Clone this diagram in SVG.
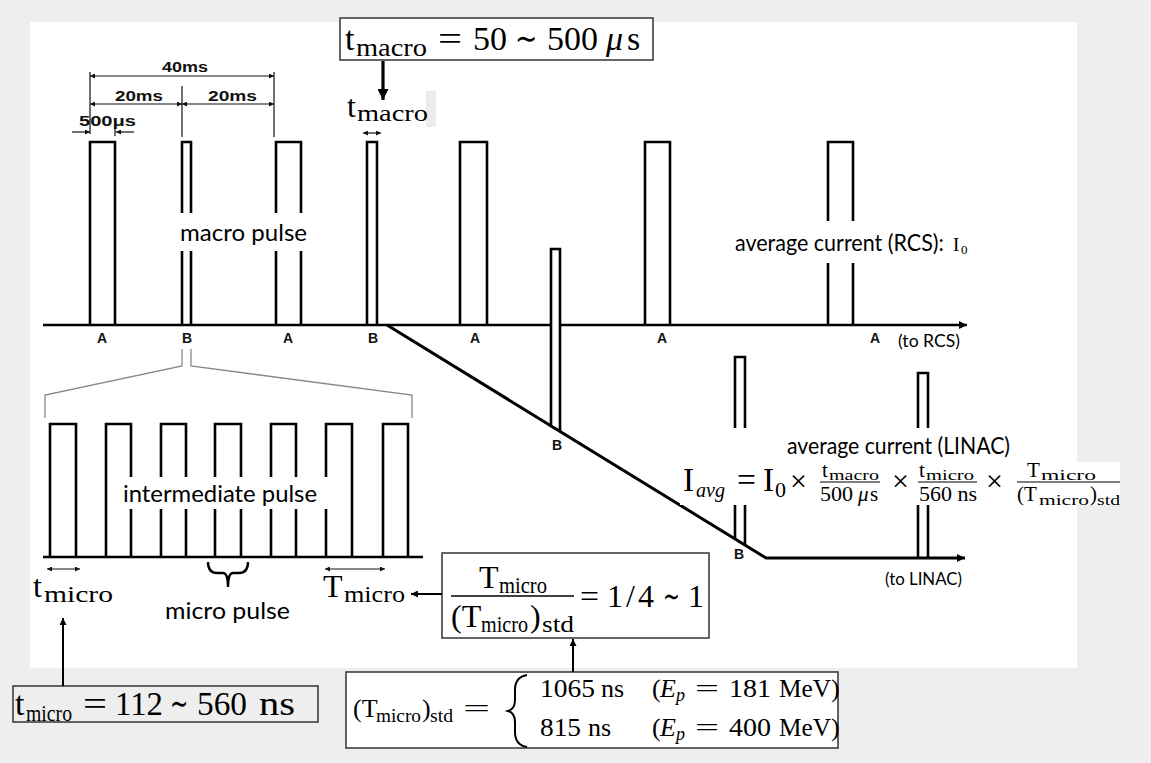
<svg xmlns="http://www.w3.org/2000/svg" width="1151" height="763" viewBox="0 0 1151 763">
<style>
.p{fill:none;stroke:#000;stroke-width:2.6;stroke-linejoin:miter}
.pw{fill:#fff;stroke:#000;stroke-width:2.6}
.ax{fill:none;stroke:#000;stroke-width:2.6}
.dim{fill:none;stroke:#111;stroke-width:1.2}
.br{fill:none;stroke:#888;stroke-width:1.3}
.box{fill:#fff;stroke:#333;stroke-width:1.5}
.con{fill:none;stroke:#000;stroke-width:2}
.lbl{font-family:Lato,"Open Sans",sans-serif;font-size:23px;fill:#000}
.ab{font-family:"Liberation Sans",Arial,sans-serif;font-weight:bold;font-size:14px;fill:#111;text-anchor:middle}
.dm{font-family:"Liberation Sans",Arial,sans-serif;font-weight:bold;font-size:15px;fill:#111}
.m{font-family:"Liberation Serif","Times New Roman",serif;fill:#000}
.wb{fill:#fff;stroke:none}
</style>
<defs>
<marker id="ds" viewBox="0 0 10 10" refX="10" refY="5" markerWidth="7" markerHeight="5" markerUnits="userSpaceOnUse" orient="auto-start-reverse"><path d="M0,0 L10,5 L0,10 z" fill="#111"/></marker>
<marker id="axm" viewBox="0 0 10 10" refX="10" refY="5" markerWidth="14" markerHeight="8" markerUnits="userSpaceOnUse" orient="auto"><path d="M0,0 L10,5 L0,10 z" fill="#000"/></marker>
<marker id="big" viewBox="0 0 10 10" refX="10" refY="5" markerWidth="13" markerHeight="11" markerUnits="userSpaceOnUse" orient="auto"><path d="M0,0 L10,5 L0,10 z" fill="#000"/></marker>
<marker id="sm" viewBox="0 0 10 10" refX="10" refY="5" markerWidth="9" markerHeight="7" markerUnits="userSpaceOnUse" orient="auto"><path d="M0,0 L10,5 L0,10 z" fill="#000"/></marker>
</defs>

<rect x="0" y="0" width="1151" height="763" fill="#eeeeee"/>
<rect x="30" y="22" width="1047" height="646" fill="#fff"/>
<rect x="426" y="91" width="10" height="36" fill="#ececec"/>

<g id="rcs-axis">
<line class="ax" x1="43" y1="325" x2="967" y2="325" marker-end="url(#axm)"/>
</g>

<g id="macro-pulses">
<path class="p" d="M90,325 V142 H115 V325"/>
<path class="p" d="M182,325 V142 H191 V325"/>
<path class="p" d="M276,325 V142 H301 V325"/>
<path class="p" d="M367,325 V142 H377 V325"/>
<path class="p" d="M460,325 V142 H487 V325"/>
<path class="p" d="M645,325 V142 H670 V325"/>
<path class="p" d="M828,325 V142 H853 V325"/>
</g>

<g id="linac-axis">
<polyline class="ax" style="stroke-width:3" points="387,325 766,558 965,558" marker-end="url(#axm)"/>
</g>

<g id="linac-pulses">
<path class="pw" d="M551,426 V249 H560 V431 Z"/>
<path class="p" d="M735,539 V357 H745 V545"/>
<path class="p" d="M918,558 V373 H928 V558"/>
</g>

<g id="dimensions">
<line class="dim" x1="90" y1="72" x2="90" y2="134"/>
<line class="dim" x1="182" y1="86" x2="182" y2="137"/>
<line class="dim" x1="274" y1="72" x2="274" y2="137"/>
<line class="dim" x1="115" y1="128" x2="115" y2="136"/>
<line class="dim" x1="90" y1="76" x2="274" y2="76" marker-start="url(#ds)" marker-end="url(#ds)"/>
<line class="dim" x1="90" y1="104" x2="182" y2="104" marker-start="url(#ds)" marker-end="url(#ds)"/>
<line class="dim" x1="182" y1="104" x2="274" y2="104" marker-start="url(#ds)" marker-end="url(#ds)"/>
<line class="dim" x1="72" y1="132" x2="90" y2="132" marker-end="url(#ds)"/>
<line class="dim" x1="134" y1="132" x2="116" y2="132" marker-end="url(#ds)"/>
<text class="dm" x="162" y="72" textLength="46" lengthAdjust="spacingAndGlyphs">40ms</text>
<text class="dm" x="115" y="101" textLength="48" lengthAdjust="spacingAndGlyphs">20ms</text>
<text class="dm" x="208" y="101" textLength="49" lengthAdjust="spacingAndGlyphs">20ms</text>
<text class="dm" x="79" y="126" textLength="57" lengthAdjust="spacingAndGlyphs">500μs</text>
<line class="dim" x1="363" y1="133" x2="381" y2="133" marker-start="url(#ds)" marker-end="url(#ds)"/>
</g>

<g id="zoom-bracket">
<polyline class="br" points="182,349 182,366 45,395 45,418"/>
<polyline class="br" points="191,349 191,366 412,395 412,418"/>
</g>

<g id="intermediate">
<line class="ax" x1="43" y1="557" x2="423" y2="557"/>
<path class="p" d="M50,557 V424 H76 V557"/>
<path class="p" d="M106,557 V424 H131 V557"/>
<path class="p" d="M161,557 V424 H186 V557"/>
<path class="p" d="M215,557 V424 H241 V557"/>
<path class="p" d="M271,557 V424 H296 V557"/>
<path class="p" d="M326,557 V424 H352 V557"/>
<path class="p" d="M383,557 V424 H408 V557"/>
<line class="dim" x1="47" y1="569" x2="80" y2="569" marker-start="url(#ds)" marker-end="url(#ds)"/>
<line class="dim" x1="325" y1="569" x2="385" y2="569" marker-start="url(#ds)" marker-end="url(#ds)"/>
<path d="M208,562 Q208,573 217,573 L223,573 Q228,573 228,587 Q228,573 233,573 L239,573 Q248,573 248,562" fill="none" stroke="#000" stroke-width="2.4"/>
</g>

<g id="label-backs">
<rect class="wb" x="176" y="213" width="134" height="38"/>
<rect class="wb" x="119" y="477" width="222" height="32"/>
<rect class="wb" x="730" y="221" width="242" height="42"/>
<path class="wb" d="M725,428 H1077 V462 H1120 V505 H680 V462 H725 Z"/>
</g>

<g id="axis-labels">
<text class="ab" x="102" y="343">A</text>
<text class="ab" x="187" y="343">B</text>
<text class="ab" x="288" y="343">A</text>
<text class="ab" x="373" y="343">B</text>
<text class="ab" x="475" y="343">A</text>
<text class="ab" x="662" y="343">A</text>
<text class="ab" x="875" y="343">A</text>
<text class="ab" x="557" y="450">B</text>
<text class="ab" x="739" y="559">B</text>
<text class="lbl" x="898" y="347" style="font-size:18px" textLength="62" lengthAdjust="spacingAndGlyphs">(to RCS)</text>
<text class="lbl" x="885" y="585" style="font-size:18px" textLength="77" lengthAdjust="spacingAndGlyphs">(to LINAC)</text>
</g>

<g id="text-labels">
<text class="lbl" x="180" y="241" textLength="127" lengthAdjust="spacingAndGlyphs">macro pulse</text>
<text class="lbl" x="123" y="502" textLength="194" lengthAdjust="spacingAndGlyphs">intermediate pulse</text>
<text class="lbl" x="165" y="619" textLength="125" lengthAdjust="spacingAndGlyphs">micro pulse</text>
<text class="lbl" x="735" y="251" textLength="209" lengthAdjust="spacingAndGlyphs">average current (RCS):</text>
<text class="m" x="953" y="251" font-size="19">I</text>
<text class="m" x="961" y="254" font-size="13">0</text>
<text class="lbl" x="787" y="454" textLength="223" lengthAdjust="spacingAndGlyphs">average current (LINAC)</text>
</g>

<g id="tmacro-label">
<text class="m" x="347" y="117" font-size="32">t</text>
<text class="m" x="357" y="121" font-size="24" textLength="71" lengthAdjust="spacingAndGlyphs">macro</text>
</g>

<g id="tmicro-label">
<text class="m" x="33" y="597" font-size="32">t</text>
<text class="m" x="44" y="602" font-size="24" textLength="69" lengthAdjust="spacingAndGlyphs">micro</text>
</g>

<g id="Tmicro-label">
<text class="m" x="323" y="597" font-size="32">T</text>
<text class="m" x="344" y="602" font-size="24" textLength="61" lengthAdjust="spacingAndGlyphs">micro</text>
</g>

<g id="formula">
<text class="m" x="683" y="491" font-size="33">I</text>
<text class="m" x="696" y="497" font-size="22" font-style="italic" textLength="29" lengthAdjust="spacingAndGlyphs">avg</text>
<text class="m" x="737" y="491" font-size="33" textLength="19" lengthAdjust="spacingAndGlyphs">=</text>
<text class="m" x="763" y="491" font-size="33">I</text>
<text class="m" x="775" y="497" font-size="22">0</text>
<text class="m" x="790" y="491" font-size="30">×</text>
<text class="m" x="822" y="477" font-size="21">t</text>
<text class="m" x="829" y="480" font-size="15" textLength="50" lengthAdjust="spacingAndGlyphs">macro</text>
<line x1="820" y1="482" x2="880" y2="482" stroke="#000" stroke-width="1.2"/>
<text class="m" x="820" y="501" font-size="21" textLength="33" lengthAdjust="spacingAndGlyphs">500</text>
<text class="m" x="858" y="501" font-size="21" font-style="italic">μ</text>
<text class="m" x="870" y="501" font-size="21">s</text>
<text class="m" x="892" y="491" font-size="30">×</text>
<text class="m" x="919" y="477" font-size="21">t</text>
<text class="m" x="926" y="480" font-size="15" textLength="48" lengthAdjust="spacingAndGlyphs">micro</text>
<line x1="918" y1="482" x2="977" y2="482" stroke="#000" stroke-width="1.2"/>
<text class="m" x="919" y="501" font-size="21" textLength="58" lengthAdjust="spacingAndGlyphs">560 ns</text>
<text class="m" x="986" y="491" font-size="30">×</text>
<text class="m" x="1027" y="477" font-size="21">T</text>
<text class="m" x="1041" y="480" font-size="15" textLength="55" lengthAdjust="spacingAndGlyphs">micro</text>
<line x1="1017" y1="482" x2="1120" y2="482" stroke="#000" stroke-width="1.2"/>
<text class="m" x="1017" y="501" font-size="21">(T</text>
<text class="m" x="1039" y="505" font-size="15" textLength="50" lengthAdjust="spacingAndGlyphs">micro</text>
<text class="m" x="1090" y="501" font-size="21">)</text>
<text class="m" x="1097" y="505" font-size="15" textLength="23" lengthAdjust="spacingAndGlyphs">std</text>
</g>

<g id="box-tmacro">
<rect class="box" x="340" y="18" width="313" height="42"/>
<text class="m" x="345" y="50" font-size="34">t</text>
<text class="m" x="356" y="56" font-size="25" textLength="71" lengthAdjust="spacingAndGlyphs">macro</text>
<text class="m" x="438" y="50" font-size="34" textLength="24" lengthAdjust="spacingAndGlyphs">=</text>
<text class="m" x="473" y="50" font-size="34">50</text>
<text class="m" x="515" y="50" font-size="34" textLength="22" lengthAdjust="spacingAndGlyphs">∼</text>
<text class="m" x="547" y="50" font-size="34">500</text>
<text class="m" x="606" y="50" font-size="34" font-style="italic">μ</text>
<text class="m" x="627" y="50" font-size="34">s</text>
</g>

<g id="box-tmicro">
<rect class="box" style="fill:#eeeeee" x="13" y="686" width="305" height="36"/>
<text class="m" x="15" y="715" font-size="34">t</text>
<text class="m" x="26" y="721" font-size="24" textLength="46" lengthAdjust="spacingAndGlyphs">micro</text>
<text class="m" x="83" y="715" font-size="34" textLength="24" lengthAdjust="spacingAndGlyphs">=</text>
<text class="m" x="115" y="715" font-size="34" textLength="48" lengthAdjust="spacingAndGlyphs">112</text>
<text class="m" x="170" y="715" font-size="34" textLength="18" lengthAdjust="spacingAndGlyphs">∼</text>
<text class="m" x="197" y="715" font-size="34" textLength="50" lengthAdjust="spacingAndGlyphs">560</text>
<text class="m" x="259" y="715" font-size="34" textLength="36" lengthAdjust="spacingAndGlyphs">ns</text>
</g>

<g id="box-ratio">
<rect class="box" x="442" y="553" width="267" height="85"/>
<text class="m" x="479" y="588" font-size="32">T</text>
<text class="m" x="499" y="593" font-size="23" textLength="48" lengthAdjust="spacingAndGlyphs">micro</text>
<line x1="451" y1="596" x2="574" y2="596" stroke="#000" stroke-width="1.3"/>
<text class="m" x="451" y="627" font-size="32">(T</text>
<text class="m" x="481" y="632" font-size="23" textLength="47" lengthAdjust="spacingAndGlyphs">micro</text>
<text class="m" x="530" y="627" font-size="32">)</text>
<text class="m" x="542" y="632" font-size="23" textLength="32" lengthAdjust="spacingAndGlyphs">std</text>
<text class="m" x="580" y="607" font-size="32" textLength="19" lengthAdjust="spacingAndGlyphs">=</text>
<text class="m" x="607" y="607" font-size="32">1</text>
<text class="m" x="626" y="607" font-size="32">/</text>
<text class="m" x="638" y="607" font-size="32">4</text>
<text class="m" x="663" y="607" font-size="32" textLength="17" lengthAdjust="spacingAndGlyphs">∼</text>
<text class="m" x="688" y="607" font-size="32">1</text>
</g>

<g id="box-std">
<rect class="box" x="346" y="672" width="492" height="76"/>
<text class="m" x="353" y="717" font-size="26">(T</text>
<text class="m" x="376" y="722" font-size="19" textLength="45" lengthAdjust="spacingAndGlyphs">micro</text>
<text class="m" x="422" y="717" font-size="26">)</text>
<text class="m" x="430" y="722" font-size="19" textLength="23" lengthAdjust="spacingAndGlyphs">std</text>
<text class="m" x="463" y="717" font-size="26" textLength="27" lengthAdjust="spacingAndGlyphs">=</text>
<path d="M527,675 Q515,677 515,690 L515,700 Q515,709 508,711 Q515,713 515,722 L515,732 Q515,745 527,747" fill="none" stroke="#000" stroke-width="2"/>
<text class="m" x="540" y="697" font-size="26" textLength="55" lengthAdjust="spacingAndGlyphs">1065</text>
<text class="m" x="601" y="697" font-size="26">ns</text>
<text class="m" x="652" y="697" font-size="26">(</text>
<text class="m" x="660" y="697" font-size="26" font-style="italic">E</text>
<text class="m" x="676" y="701" font-size="18" font-style="italic">p</text>
<text class="m" x="695" y="697" font-size="26" textLength="24" lengthAdjust="spacingAndGlyphs">=</text>
<text class="m" x="729" y="697" font-size="26" textLength="42" lengthAdjust="spacingAndGlyphs">181</text>
<text class="m" x="779" y="697" font-size="26" textLength="52" lengthAdjust="spacingAndGlyphs">MeV</text>
<text class="m" x="831" y="697" font-size="26">)</text>
<text class="m" x="540" y="736" font-size="26" textLength="41" lengthAdjust="spacingAndGlyphs">815</text>
<text class="m" x="588" y="736" font-size="26">ns</text>
<text class="m" x="652" y="736" font-size="26">(</text>
<text class="m" x="660" y="736" font-size="26" font-style="italic">E</text>
<text class="m" x="676" y="740" font-size="18" font-style="italic">p</text>
<text class="m" x="695" y="736" font-size="26" textLength="24" lengthAdjust="spacingAndGlyphs">=</text>
<text class="m" x="729" y="736" font-size="26" textLength="42" lengthAdjust="spacingAndGlyphs">400</text>
<text class="m" x="779" y="736" font-size="26" textLength="52" lengthAdjust="spacingAndGlyphs">MeV</text>
<text class="m" x="831" y="736" font-size="26">)</text>
</g>

<g id="connectors">
<line x1="383" y1="61" x2="383" y2="100" stroke="#000" stroke-width="3.2" marker-end="url(#big)"/>
<line class="con" x1="63" y1="686" x2="63" y2="618" marker-end="url(#sm)"/>
<line class="con" x1="442" y1="594" x2="411" y2="594" marker-end="url(#sm)"/>
<line class="con" x1="573" y1="672" x2="573" y2="639" marker-end="url(#sm)"/>
</g>
</svg>
